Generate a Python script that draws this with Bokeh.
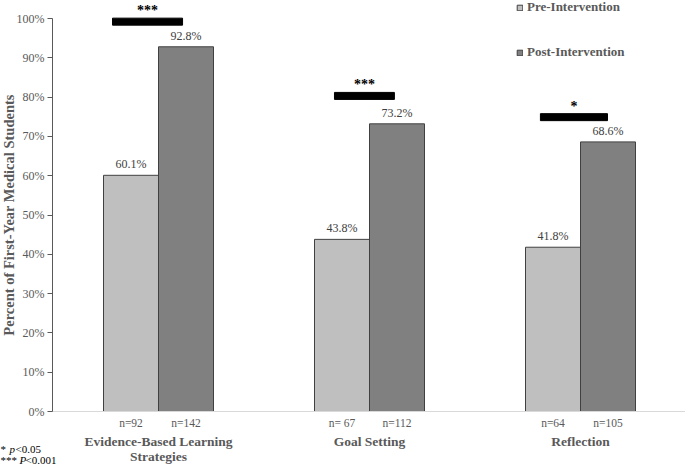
import math
from bokeh.plotting import figure
from bokeh.models import (Range1d, Label, Legend, LegendItem, PrintfTickFormatter,
                          FixedTicker, ColumnDataSource)
from bokeh.embed import file_html
from bokeh.resources import INLINE

# ---------------- data ----------------
categories = ["Evidence-Based Learning Strategies", "Goal Setting", "Reflection"]
category_lines = [["Evidence-Based Learning", "Strategies"], ["Goal Setting"], ["Reflection"]]
pre_values = [60.1, 43.8, 41.8]
post_values = [92.8, 73.2, 68.6]
pre_n = ["n=92", "n= 67", "n=64"]
post_n = ["n=142", "n=112", "n=105"]
sig_stars = ["***", "***", "*"]
sig_level = [99.2, 80.3, 74.9]
sig_left = [-0.218, -0.166, -0.19]
sig_right = [0.114, 0.118, 0.128]
y_ticks = [0, 10, 20, 30, 40, 50, 60, 70, 80, 90, 100]
series_names = ["Pre-Intervention", "Post-Intervention"]

# ---------------- geometry (frame = whole canvas) ----------------
W, H = 685, 465
PXX = 211.0            # px per category
CX0 = 158.0            # pixel x of first category centre
AX_X = 52.0            # pixel x of the value axis
Y0_PX, Y100_PX = 411.0, 18.0
PXY = (Y0_PX - Y100_PX) / 100.0


def dx(px):
    return (px - CX0) / PXX


def dy(py):
    return (Y0_PX - py) / PXY


BAR_W = 55 / PXX
OFF = BAR_W / 2

FONT = "Liberation Serif"
GREY_TXT = "#595959"

p = figure(width=W, height=H, x_range=Range1d(dx(0), dx(W)), y_range=Range1d(dy(H), dy(0)),
           output_backend="svg", toolbar_location=None,
           min_border_left=0, min_border_right=0, min_border_top=0, min_border_bottom=0)
p.outline_line_color = None
p.xgrid.visible = False
p.ygrid.visible = False
p.background_fill_color = "white"
p.border_fill_color = "white"

# value axis
ya = p.yaxis[0]
ya.fixed_location = dx(AX_X)
ya.bounds = (0, 100)
ya.ticker = FixedTicker(ticks=y_ticks)
ya.formatter = PrintfTickFormatter(format="%d%%")
ya.major_label_text_font = FONT
ya.major_label_text_font_size = "12px"
ya.major_label_text_color = GREY_TXT
ya.major_label_standoff = 3
ya.axis_line_color = "#595959"
ya.major_tick_line_color = "#595959"
ya.major_tick_out = 5
ya.major_tick_in = 0
ya.minor_tick_line_color = None
ya.axis_label = "Percent of First-Year Medical Students"
ya.axis_label_text_font = FONT
ya.axis_label_text_font_style = "bold"
ya.axis_label_text_font_size = "14.5px"
ya.axis_label_text_color = GREY_TXT
ya.axis_label_standoff = -3

# category axis line
xa = p.xaxis[0]
xa.fixed_location = 0
xa.bounds = (dx(AX_X), dx(W))
xa.ticker = FixedTicker(ticks=[])
xa.major_tick_line_color = None
xa.minor_tick_line_color = None
xa.major_label_text_font_size = "0px"
xa.axis_line_color = "#d9d9d9"

idx = list(range(len(categories)))
pre_x = [i - OFF for i in idx]
post_x = [i + OFF for i in idx]

src_pre = ColumnDataSource(dict(x=pre_x, top=pre_values))
src_post = ColumnDataSource(dict(x=post_x, top=post_values))

r_pre = p.vbar(x="x", top="top", width=BAR_W, source=src_pre,
               fill_color="#bfbfbf", line_color="#404040", line_width=1)
r_post = p.vbar(x="x", top="top", width=BAR_W, source=src_post,
                fill_color="#808080", line_color="#404040", line_width=1)

# significance bars
lefts = [i + l for i, l in zip(idx, sig_left)]
rights = [i + r for i, r in zip(idx, sig_right)]
p.hbar(y=sig_level, left=lefts, right=rights, height=7 / PXY,
       fill_color="black", line_color="black")

for i in idx:
    cx = (lefts[i] + rights[i]) / 2
    p.add_layout(Label(x=cx, y=sig_level[i] + 11 / PXY, text=sig_stars[i],
                       text_align="center", text_baseline="middle",
                       text_font=FONT, text_font_style="bold",
                       text_font_size="14px", text_color="black"))

# value labels
for xs, vals in ((pre_x, pre_values), (post_x, post_values)):
    for x, v in zip(xs, vals):
        p.add_layout(Label(x=x, y=v + 4 / PXY, text=f"{v:.1f}%",
                           text_align="center", text_baseline="bottom",
                           text_font=FONT, text_font_size="12px",
                           text_color="#404040"))

# n labels
for xs, ns in ((pre_x, pre_n), (post_x, post_n)):
    for x, n in zip(xs, ns):
        p.add_layout(Label(x=x, y=dy(422), text=n,
                           text_align="center", text_baseline="middle",
                           text_font=FONT, text_font_size="11.5px",
                           text_color=GREY_TXT))

# category labels
for i, lines in zip(idx, category_lines):
    for k, line in enumerate(lines):
        p.add_layout(Label(x=i, y=dy(441 + 15 * k), text=line,
                           text_align="center", text_baseline="middle",
                           text_font=FONT, text_font_style="bold",
                           text_font_size="13.5px", text_color=GREY_TXT))

# footnotes
foot = [("*", "p", "<0.05", 448, 6), ("***", "P", "<0.001", 459, 16)]
for pre_s, it, post_s, py, w1 in foot:
    yy = dy(py)
    p.add_layout(Label(x=dx(0), y=yy, text=pre_s, text_baseline="middle",
                       text_font=FONT, text_font_size="11px", text_color="black"))
    p.add_layout(Label(x=dx(0), y=yy, x_offset=w1 + 3, text=it, text_baseline="middle",
                       text_font=FONT, text_font_style="italic",
                       text_font_size="11px", text_color="black"))
    p.add_layout(Label(x=dx(0), y=yy, x_offset=w1 + 9, text=post_s, text_baseline="middle",
                       text_font=FONT, text_font_size="11px", text_color="black"))

# legend
legend = Legend(items=[LegendItem(label=series_names[0], renderers=[r_pre]),
                       LegendItem(label=series_names[1], renderers=[r_post])],
                location=(516, H - 60), orientation="vertical",
                glyph_width=7, glyph_height=7, label_height=12, spacing=29,
                label_standoff=4, padding=0, margin=0,
                label_text_font=FONT, label_text_font_style="bold",
                label_text_font_size="13px", label_text_color=GREY_TXT,
                border_line_color=None, background_fill_alpha=0)
p.add_layout(legend, "center")

open("out.html", "w").write(file_html(p, INLINE))
